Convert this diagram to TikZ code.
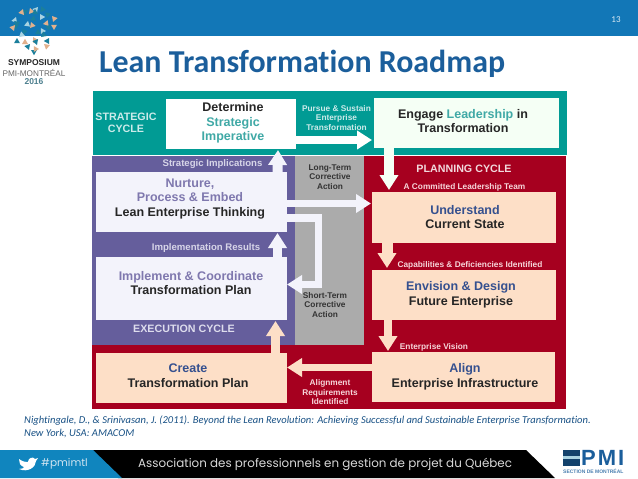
\documentclass[tikz,border=0pt]{standalone}
\usepackage{fontspec}
\usepackage{tikz}
\usetikzlibrary{arrows.meta}
\setmainfont{Liberation Sans}
\newfontfamily\carlito[Ligatures=NoCommon]{Carlito}
\newfontfamily\poppins{Poppins}
\newfontfamily\widesans[LetterSpace=9]{Liberation Sans}
\definecolor{headblue}{HTML}{1277B7}
\definecolor{titleblue}{HTML}{1B5E9B}
\definecolor{tealpanel}{HTML}{019B94}
\definecolor{tealword}{HTML}{40A9A6}
\definecolor{purplepanel}{HTML}{655E9C}
\definecolor{purpleword}{HTML}{7F78AE}
\definecolor{purplebox}{HTML}{F3F3FB}
\definecolor{graypanel}{HTML}{ABABAB}
\definecolor{redpanel}{HTML}{A6001F}
\definecolor{peachbox}{HTML}{FDDFC7}
\definecolor{navyword}{HTML}{35508F}
\definecolor{pinkword}{HTML}{F6D6DA}
\definecolor{logopeach}{HTML}{E2B08C}
\definecolor{logoteal}{HTML}{1B7F9C}
\definecolor{logopale}{HTML}{A9D3E2}
\newcommand{\boxfont}{\fontsize{12.5}{14.7}\selectfont\bfseries}
\tikzset{
  panel/.style={anchor=north west, inner sep=0pt, outer sep=0pt},
  boxtext/.style={align=center, inner sep=0pt, text=black!85, font=\boxfont},
  cycletext/.style={align=center, inner sep=0pt, font=\fontsize{10.7}{12.6}\selectfont\bfseries},
  smalltext/.style={align=center, inner sep=0pt, font=\fontsize{8.3}{9.5}\selectfont\bfseries},
  resulttext/.style={inner sep=0pt, text=purplebox!80!purplepanel, font=\fontsize{9.6}{11}\selectfont\bfseries},
  bigarrow/.style={line width=7.5pt, -{Triangle[length=15pt,width=18pt]}},
}
\begin{document}
\begin{tikzpicture}[x=1pt, y=-1pt]
\useasboundingbox (0,0) rectangle (638,479);
% header
\node[panel, fill=headblue, minimum width=638pt, minimum height=36pt] (header) at (0,0) {};
\node[text=white!85!headblue, font=\fontsize{9}{11}\selectfont\carlito, inner sep=0pt] (pagenum) at (616,19.5) {13};
\node[anchor=west, inner sep=0pt, text=titleblue, font=\fontsize{31.9}{34}\selectfont\carlito\bfseries] (title) at (99,63.5) {Lean Transformation Roadmap};
% logo
\foreach \x/\y/\r/\c in {22/10/0/logoteal, 30/8/40/logopeach, 38/7/100/logopale, 46/10/160/logoteal, 52/16/20/logopeach,
  16/17/80/logopale, 24/15/200/logopeach, 32/14/300/logoteal, 40/14/30/logopale, 47/18/250/logoteal,
  13/24/10/logoteal, 20/22/130/logoteal, 28/21/70/logopale, 36/21/190/logoteal, 43/24/320/logopeach, 51/25/110/logoteal,
  14/31/220/logopeach, 22/29/20/logoteal, 30/28/280/logopeach, 38/29/60/logoteal, 46/31/150/logopale, 54/30/240/logopeach,
  17/38/60/logoteal, 25/36/170/logopale, 33/37/30/logopeach, 41/37/290/logoteal, 49/38/90/logoteal,
  22/44/300/logopeach, 30/44/100/logoteal, 37/45/220/logoteal, 44/44/10/logopeach, 31/50/0/logoteal, 39/49/150/logopeach}
  \fill[\c] (\x,\y) -- ++(\r:6) -- ++(\r+120:6) -- cycle;
\node[inner sep=0pt, text=black!85, font=\fontsize{8.5}{10}\selectfont\bfseries] (symposium) at (34,62.5) {SYMPOSIUM};
\node[inner sep=0pt, text=black!60, font=\fontsize{8.2}{10}\selectfont] (pmimtlname) at (34,72.5) {PMI-MONTRÉAL};
\node[inner sep=0pt, text=logoteal!50!gray, font=\fontsize{8.5}{10}\selectfont\bfseries] (year) at (34,82) {2016};
% panels
\node[panel, fill=tealpanel, minimum width=474pt, minimum height=64pt] (strategic) at (93,91) {};
\node[panel, fill=purplepanel, minimum width=203pt, minimum height=189pt] (execution) at (92,156) {};
\node[panel, fill=graypanel, minimum width=69pt, minimum height=189pt] (corrective) at (295,156) {};
\node[panel, fill=redpanel, minimum width=202pt, minimum height=253pt] (planning) at (364,156) {};
\node[panel, fill=redpanel, minimum width=474pt, minimum height=64pt] (creation) at (92,345) {};
% boxes
\node[panel, fill=white, minimum width=130pt, minimum height=50pt] (determine) at (166,99) {};
\node[panel, fill=white!96!green, minimum width=185pt, minimum height=50pt] (engage) at (374,98) {};
\node[panel, fill=purplebox, minimum width=191pt, minimum height=60pt] (nurture) at (96,172) {};
\node[panel, fill=purplebox, minimum width=191pt, minimum height=63pt] (implement) at (96,257) {};
\node[panel, fill=peachbox, minimum width=184pt, minimum height=51pt] (understand) at (372,192) {};
\node[panel, fill=peachbox, minimum width=184pt, minimum height=50pt] (envision) at (372,270) {};
\node[panel, fill=peachbox, minimum width=183pt, minimum height=50pt] (align) at (372,352) {};
\node[panel, fill=peachbox, minimum width=191pt, minimum height=50pt] (create) at (96,353) {};
% box texts
\node[boxtext] (determinetext) at (233,123) {Determine\\\textcolor{tealword}{Strategic}\\\textcolor{tealword}{Imperative}};
\node[boxtext] (engagetext) at (463,121) {Engage \textcolor{tealword}{Leadership} in\\Transformation};
\node[boxtext] (nurturetext) at (190,199) {\textcolor{purpleword}{Nurture,}\\\textcolor{purpleword}{Process \& Embed}\\Lean Enterprise Thinking};
\node[boxtext] (implementtext) at (191,283) {\textcolor{purpleword}{Implement \& Coordinate}\\Transformation Plan};
\node[boxtext] (understandtext) at (465,217) {\textcolor{navyword}{Understand}\\Current State};
\node[boxtext] (envisiontext) at (461,295) {\textcolor{navyword}{Envision \& Design}\\Future Enterprise};
\node[boxtext] (aligntext) at (465,377) {\textcolor{navyword}{Align}\\Enterprise Infrastructure};
\node[boxtext] (createtext) at (188,375.5) {\textcolor{navyword}{Create}\\Transformation Plan};
% cycle names
\node[cycletext, text=white!80!tealpanel] (strategiclabel) at (126,123) {STRATEGIC\\CYCLE};
\node[cycletext, text=purplebox!85!purplepanel] (executionlabel) at (184,329) {EXECUTION CYCLE};
\node[cycletext, text=white!85!redpanel] (planninglabel) at (464,168.5) {PLANNING CYCLE};
% small labels
\node[resulttext] (impllabel) at (212.5,164) {Strategic Implications};
\node[resulttext] (resultslabel) at (206,248) {Implementation Results};
\node[smalltext, text=white!80!tealpanel] (sustainlabel) at (336.5,118) {Pursue \& Sustain\\Enterprise\\Transformation};
\node[smalltext, text=black!80] (longlabel) at (330,177) {Long-Term\\Corrective\\Action};
\node[smalltext, text=black!80] (shortlabel) at (325,305) {Short-Term\\Corrective\\Action};
\node[smalltext, text=pinkword] (teamlabel) at (464.5,187.5) {A Committed Leadership Team};
\node[smalltext, text=pinkword] (capablabel) at (470,265) {Capabilities \& Deficiencies Identified};
\node[smalltext, text=pinkword] (visionlabel) at (434,347) {Enterprise Vision};
\node[smalltext, text=pinkword] (alignmentlabel) at (330,392.5) {Alignment\\Requirements\\Identified};
% arrows
\draw[bigarrow, white] ([yshift=-16pt]determine.east) -- ([xshift=-2pt,yshift=-17pt]engage.west);
\draw[bigarrow, line width=10pt, white!96!green] ([xshift=-77.5pt]engage.south) -- ([xshift=-75pt,yshift=2pt]understand.north);
\draw[bigarrow, line width=10pt, purplebox] ([xshift=86pt]nurture.north) -- ([xshift=47pt,yshift=-1pt]determine.south);
\draw[bigarrow, line width=9pt, purplebox] ([xshift=86pt]implement.north) -- ([xshift=86pt,yshift=-1pt]nurture.south);
\draw[bigarrow, purplebox] ([yshift=-1.5pt]nurture.east) -- ([xshift=-1pt,yshift=14pt]understand.west);
\coordinate (loopa) at (318.5,218);
\coordinate (loopb) at (318.5,284.5);
\draw[bigarrow, purplebox] ([yshift=-16pt]nurture.east) -- (loopa) -- (loopb) -- ([yshift=4pt]implement.east);
\draw[bigarrow, line width=11pt, peachbox] ([xshift=-77pt]understand.south) -- ([xshift=-77pt,yshift=2pt]envision.north);
\draw[bigarrow, peachbox] ([xshift=-76pt]envision.south) -- ([xshift=-75.5pt,yshift=1pt]align.north);
\draw[bigarrow, peachbox] ([yshift=9.5pt]align.west) -- ([yshift=10.5pt]create.east);
\draw[bigarrow, line width=9pt, peachbox] ([xshift=84pt]create.north) -- ([xshift=84pt,yshift=-1pt]implement.south);
% citation
\node[anchor=north west, inner sep=0pt, text=titleblue!85!black, align=left, font=\fontsize{10.55}{12.5}\selectfont\carlito\itshape] (citation) at (24,416) {Nightingale, D., \& Srinivasan, J. (2011). Beyond the Lean Revolution: Achieving Successful and Sustainable Enterprise Transformation.\\New York, USA: AMACOM};
% footer
\fill[black] (90,450) -- (526,450) -- (555,478) -- (118,478) -- cycle;
\fill[headblue!90!cyan] (0,450) -- (93,450) -- (122,478) -- (0,478) -- cycle;
\fill[white] (19,459) .. controls (23,462) and (26,462) .. (28,462) .. controls (28,458) and (33,456) .. (35,459) -- (38,458) -- (36,461) .. controls (36,467) and (28,473) .. (19,469) .. controls (22,469) and (24,468) .. (24,467) .. controls (22,467) and (21,465) .. (20,464) -- cycle;
\node[anchor=west, inner sep=0pt, text=white!80!headblue, font=\fontsize{10.5}{12}\selectfont\poppins] (hashtag) at (41,464) {\#pmimtl};
\node[anchor=west, inner sep=0pt, text=white!85!black, font=\fontsize{11.9}{14}\selectfont\poppins] (association) at (138,464.5) {Association des professionnels en gestion de projet du Québec};
% section logo
\fill[titleblue!70!black] (563,450) rectangle (580,466);
\fill[logopale] (563,456) rectangle (580,459);
\node[anchor=west, inner sep=0pt, text=titleblue, font=\fontsize{22}{24}\selectfont\widesans\bfseries] (pmimark) at (581,458) {PMI};
\node[anchor=west, inner sep=0pt, text=titleblue!80, font=\fontsize{5}{6}\selectfont\bfseries] (sectionname) at (563,471.5) {SECTION DE MONTRÉAL};
\end{tikzpicture}
\end{document}
